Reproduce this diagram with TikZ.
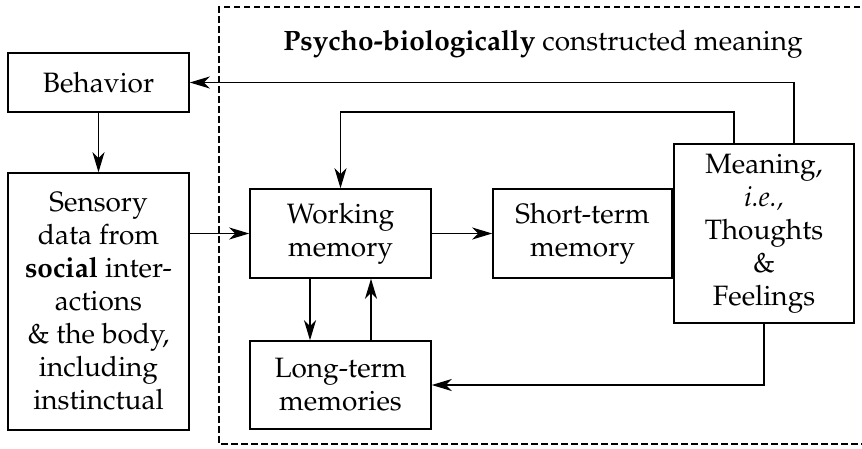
\documentclass[tikz,border=0pt]{standalone}
\usepackage[T1]{fontenc}
\usepackage{mathpazo}
\usetikzlibrary{arrows.meta}
\tikzset{
  box/.style={draw, line width=1.5pt, align=center, inner sep=0pt,
    font=\fontsize{28}{33}\selectfont},
  arr/.style={line width=1.4pt, -{Stealth[length=20pt,width=12pt,inset=6pt]}},
  dashedbox/.style={line width=2.6pt, dash pattern=on 6.5pt off 3.5pt},
  titletext/.style={font=\fontsize{28}{32}\selectfont, inner sep=0pt}
}
\begin{document}
\begin{tikzpicture}[x=1pt,y=-1pt]
\useasboundingbox (0,0) rectangle (862,448);
% dashed region (right side outside picture)
\coordinate (dtr) at (880,7);
\coordinate (dbr) at (880,444);
\draw[dashedbox] (dtr) -| (219,444) -- (dbr);
\node[titletext] (title) at (543,44) {\textbf{Psycho-biologically} constructed meaning};
% boxes
\node[box, minimum width=181pt, minimum height=59pt] (beh) at (98.5,82.5) {Behavior};
\node[box, minimum width=181pt, minimum height=257pt] (sen) at (98.5,301.5)
  {Sensory\\ data from\\ \textbf{social} inter-\\ actions\\ \& the body,\\ including\\ instinctual};
\node[box, minimum width=181pt, minimum height=89pt] (wm) at (340.5,233.5) {Working\\ memory};
\node[box, minimum width=179pt, minimum height=89pt] (stm) at (582.5,233.5) {Short-term\\ memory};
\node[box, minimum width=180pt, minimum height=179pt] (mn) at (764,233.5)
  {Meaning,\\ \textit{i.e.,}\\ Thoughts\\ \&\\ Feelings};
\node[box, minimum width=181pt, minimum height=88pt] (lt) at (340.5,385) {Long-term\\ memories};
% connectors
\coordinate (loopy) at (0,112);
\draw[arr] (beh.south) -- (sen.north);
\draw[arr] (sen.east |- wm.west) -- (wm.west);
\draw[arr] (wm.east) -- (stm.west);
\draw[arr] ([xshift=-30.5pt]wm.south) -- ([xshift=-30.5pt]lt.north);
\draw[arr] ([xshift=30.5pt]lt.north) -- ([xshift=30.5pt]wm.south);
\draw[arr] ([xshift=30pt]mn.north) |- (beh.east);
\draw[arr] ([xshift=-30pt]mn.north) -- ([xshift=-30pt]mn.north |- loopy) -| (wm.north);
\draw[arr] (mn.south) |- (lt.east);
\end{tikzpicture}
\end{document}
